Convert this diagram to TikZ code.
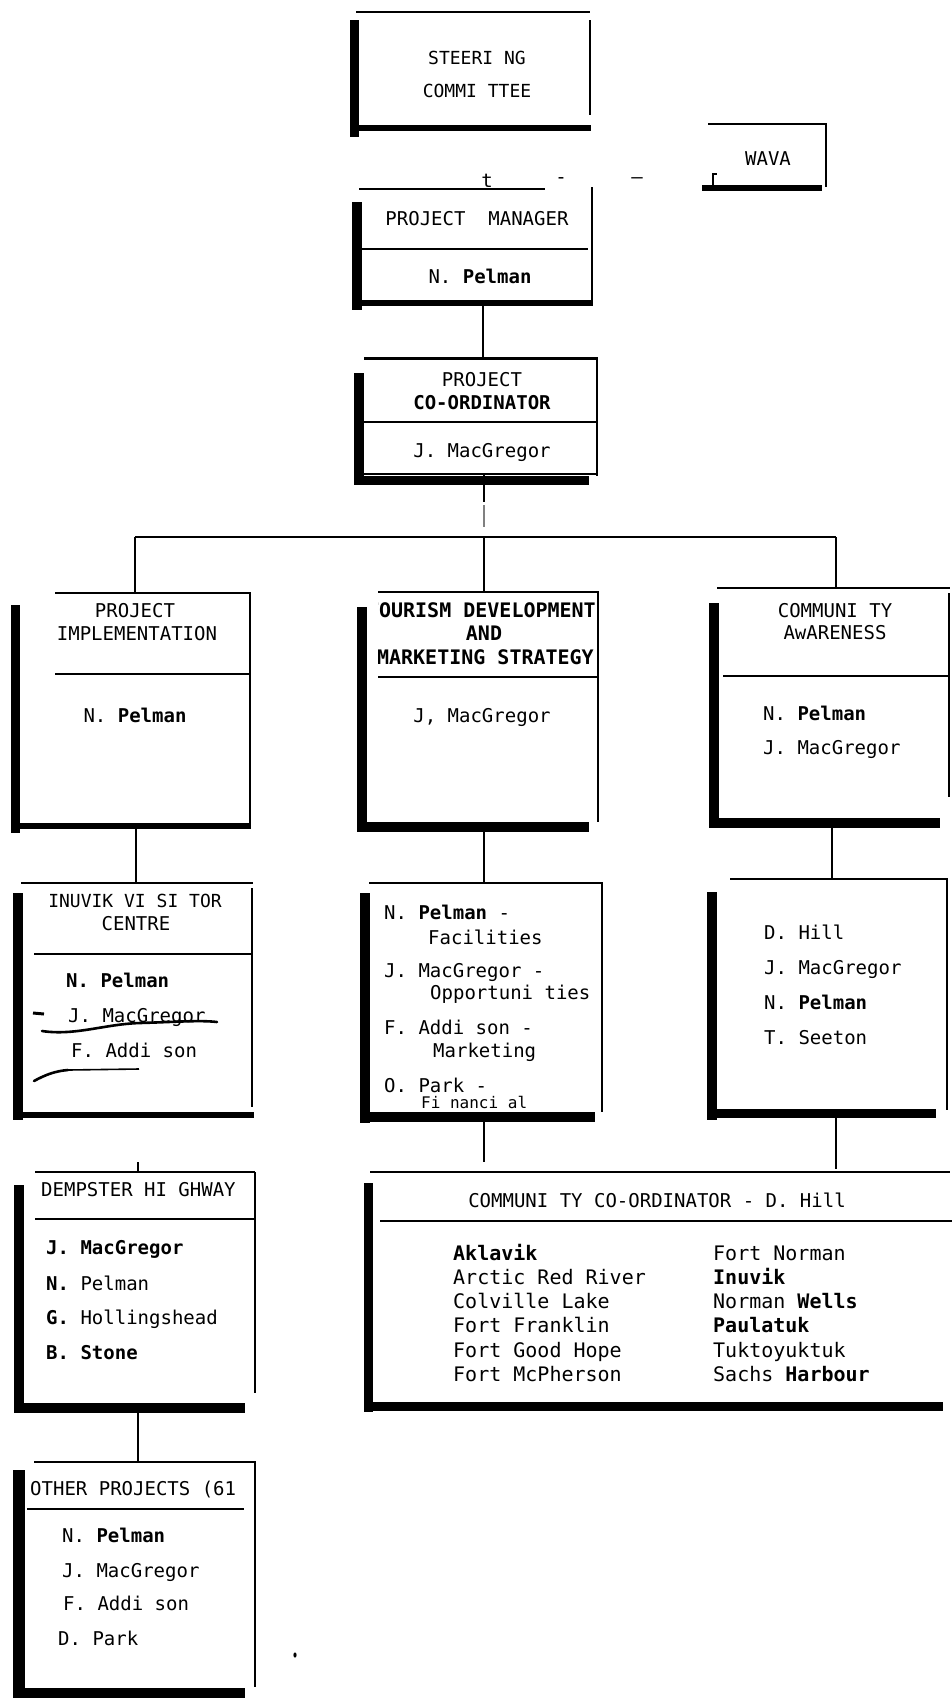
\documentclass[tikz,border=0pt]{standalone}
\usepackage{fontspec}
\setmainfont{DejaVu Sans Mono}
\usetikzlibrary{calc}
\newcommand\areanode[5]{\node[area, minimum width={#4pt-#2pt}, minimum height={#5pt-#3pt}] (#1) at (#2,#3) {};}
\begin{document}
\begin{tikzpicture}[x=1pt,y=-1pt,
  thinln/.style={line width=1.6pt},
  topln/.style={line width=2.4pt},
  conn/.style={line width=1.3pt},
  hand/.style={line width=2.6pt, line cap=round},
  lbl/.style={inner sep=0pt, font=\fontsize{19}{22}\selectfont},
  bl/.style={lbl, anchor=base west},
  bc/.style={lbl, anchor=base},
  big/.style={font=\fontsize{20}{22}\selectfont},
  bigb/.style={font=\fontsize{20}{22}\selectfont\bfseries},
  area/.style={inner sep=0pt, draw=none, anchor=north west}
]
\useasboundingbox[fill=white] (0,0) rectangle (952,1703);

% ---------- Steering committee
\areanode{sc}{359}{12}{590}{125}
\draw[topln] (356,12) -- (590,12);
\draw[thinln] (590,20) -- (590,115);
\fill (350,20) rectangle (359,137);
\fill (359,125) rectangle (591,131);
\node[bc, font=\fontsize{18}{20}\selectfont] (sc1) at (477,64) {STEERI NG};
\node[bc, font=\fontsize{18}{20}\selectfont] (sc2) at (477,97) {COMMI TTEE};

% ---------- WAVA
\areanode{wava}{708}{124}{826}{185}
\draw[topln] (708,124) -- (827,124);
\draw[thinln] (826,123) -- (826,187);
\fill (702,185) rectangle (822,191);
\draw[line width=1.2pt] (713,185) -- (713,174) -- (717,174);
\node[bc] (wava1) at (768,165) {WAVA};

% remnants of the link between them
\node[bc] (tt) at (487,187) {t};
\node[lbl] (d1) at (561,181) {-};
\node[lbl] (d2) at (637,181) {–};

% ---------- Project manager
\areanode{pm}{362}{189}{592}{300}
\draw[topln] (359,189) -- (545,189);
\draw[thinln] (592,187) -- (592,305);
\fill (352,202) rectangle (362,310);
\fill (362,300) rectangle (593,306);
\draw[thinln] (362,249) -- (588,249);
\node[bc] (pm1) at (477,225) {PROJECT~~MANAGER};
\node[bc] (pm2) at (480,283) {N. \textbf{Pelman}};

% ---------- Project co-ordinator
\areanode{pc}{364}{358}{597}{475}
\draw[line width=3pt] (364,358) -- (598,358);
\draw[thinln] (597,358) -- (597,476);
\draw[thinln] (364,474) -- (598,474);
\fill (354,373) rectangle (364,485);
\fill (354,476) rectangle (589,485);
\draw[thinln] (364,422) -- (597,422);
\node[bc] (pc1) at (482,386) {PROJECT};
\node[bc, font=\fontsize{19}{22}\selectfont\bfseries] (pc2) at (482,409) {CO-ORDINATOR};
\node[bc] (pc3) at (482,457) {J. MacGregor};

% ---------- Project implementation
\areanode{pi}{20}{593}{250}{823}
\draw[topln] (55,593) -- (251,593);
\draw[thinln] (250,593) -- (250,823);
\fill (11,605) rectangle (20,833);
\fill (20,823) rectangle (251,829);
\draw[thinln] (55,674) -- (250,674);
\node[bc] (pi1) at (135,617) {PROJECT};
\node[bc] (pi2) at (137,640) {IMPLEMENTATION};
\node[bc] (pi3) at (135,722) {N. \textbf{Pelman}};

% ---------- Tourism development
\areanode{td}{367}{592}{598}{822}
\draw[topln] (378,592) -- (599,592);
\draw[thinln] (598,592) -- (598,822);
\fill (357,607) rectangle (367,832);
\fill (367,822) rectangle (589,832);
\draw[thinln] (378,677) -- (598,677);
\begin{scope}
\clip (378,595) rectangle (600,675);
\node[lbl, anchor=base east, bigb] (td1) at (596,617) {TOURISM DEVELOPMENT};
\node[lbl, anchor=base, bigb] (td2) at (484,640) {AND};
\node[lbl, anchor=base east, bigb] (td3) at (594,664) {MARKETING STRATEGY};
\end{scope}
\node[bc] (td4) at (482,722) {J, MacGregor};

% ---------- Community awareness
\areanode{ca}{719}{588}{949}{818}
\draw[topln] (717,588) -- (950,588);
\draw[thinln] (949,593) -- (949,797);
\fill (709,603) rectangle (719,828);
\fill (719,818) rectangle (940,828);
\draw[thinln] (723,676) -- (949,676);
\node[bc] (ca1) at (835,617) {COMMUNI TY};
\node[bc] (ca2) at (835,639) {AwARENESS};
\node[bl] (ca3) at (763,720) {N. \textbf{Pelman}};
\node[bl] (ca4) at (763,754) {J. MacGregor};

% ---------- Inuvik visitor centre
\areanode{ivc}{23}{883}{252}{1112}
\draw[topln] (21,883) -- (253,883);
\draw[thinln] (252,888) -- (252,1107);
\fill (13,893) rectangle (23,1120);
\fill (23,1112) rectangle (254,1118);
\draw[thinln] (34,954) -- (252,954);
\node[bc, font=\fontsize{18}{20}\selectfont] (ivc1) at (135,907) {INUVIK VI SI TOR};
\node[bc] (ivc2) at (136,930) {CENTRE};
\node[bl, font=\fontsize{19}{22}\selectfont\bfseries] (ivc3) at (66,987) {N. Pelman};
\node[bl] (ivc4) at (68,1022) {J. MacGregor};
\node[bl] (ivc5) at (71,1057) {F. Addi son};
\draw[line width=3pt] (33,1013) -- (44,1014);
\draw[hand] (42,1031) .. controls (75,1036) and (105,1024) .. (140,1023) .. controls (175,1022) and (200,1020) .. (217,1022);
\draw[hand] (34,1081) .. controls (45,1075) and (55,1071) .. (68,1070);
\draw[thinln] (68,1070) -- (139,1069);

% ---------- Development list
\areanode{dl}{370}{883}{602}{1112}
\draw[topln] (369,883) -- (603,883);
\draw[thinln] (602,883) -- (602,1112);
\fill (360,893) rectangle (370,1123);
\fill (370,1112) rectangle (595,1122);
\node[bl] (dl1) at (384,919) {N. \textbf{Pelman} -};
\node[bl] (dl2) at (428,944) {Facilities};
\node[bl] (dl3) at (384,977) {J. MacGregor -};
\node[bl] (dl4) at (430,999) {Opportuni ties};
\node[bl] (dl5) at (384,1034) {F. Addi son -};
\node[bl] (dl6) at (433,1057) {Marketing};
\node[bl] (dl7) at (384,1092) {O. Park -};
\node[bl, font=\fontsize{16}{18}\selectfont] (dl8) at (421,1108) {Fi nanci al};

% ---------- Community list
\areanode{cl}{717}{879}{947}{1109}
\draw[topln] (730,879) -- (948,879);
\draw[thinln] (947,879) -- (947,1110);
\fill (707,892) rectangle (717,1120);
\fill (717,1109) rectangle (936,1118);
\node[bl] (cl1) at (764,939) {D. Hill};
\node[bl] (cl2) at (764,974) {J. MacGregor};
\node[bl] (cl3) at (764,1009) {N. \textbf{Pelman}};
\node[bl] (cl4) at (764,1044) {T. Seeton};

% ---------- Dempster highway
\areanode{dh}{24}{1172}{255}{1403}
\draw[topln] (35,1172) -- (255,1172);
\draw[thinln] (255,1172) -- (255,1393);
\fill (14,1185) rectangle (24,1413);
\fill (24,1403) rectangle (245,1413);
\draw[topln] (35,1219) -- (255,1219);
\node[bl] (dh1) at (41,1196) {DEMPSTER HI GHWAY};
\node[bl, font=\fontsize{19}{22}\selectfont\bfseries] (dh2) at (46,1254) {J. MacGregor};
\node[bl] (dh3) at (46,1290) {\textbf{N.} Pelman};
\node[bl] (dh4) at (46,1324) {\textbf{G.} Hollingshead};
\node[bl, font=\fontsize{19}{22}\selectfont\bfseries] (dh5) at (46,1359) {B. Stone};

% ---------- Community co-ordinator
\areanode{cc}{373}{1172}{953}{1402}
\draw[topln] (370,1172) -- (950,1172);
\draw[thinln] (953,1172) -- (953,1397);
\fill (364,1183) rectangle (373,1412);
\fill (373,1402) rectangle (943,1411);
\draw[thinln] (380,1221) -- (952,1221);
\node[bc] (cc0) at (657,1207) {COMMUNI TY CO-ORDINATOR - D. Hill};
\node[bl, bigb] (cc1) at (453,1260) {Aklavik};
\node[bl, big] (cc2) at (453,1284) {Arctic Red River};
\node[bl, big] (cc3) at (453,1308) {Colville Lake};
\node[bl, big] (cc4) at (453,1332) {Fort Franklin};
\node[bl, big] (cc5) at (453,1357) {Fort Good Hope};
\node[bl, big] (cc6) at (453,1381) {Fort McPherson};
\node[bl, big] (cc7) at (713,1260) {Fort Norman};
\node[bl, bigb] (cc8) at (713,1284) {Inuvik};
\node[bl, big] (cc9) at (713,1308) {Norman \textbf{Wells}};
\node[bl, bigb] (cc10) at (713,1332) {Paulatuk};
\node[bl, big] (cc11) at (713,1357) {Tuktoyuktuk};
\node[bl, big] (cc12) at (713,1381) {Sachs \textbf{Harbour}};

% ---------- Other projects
\areanode{op}{25}{1462}{255}{1688}
\draw[topln] (34,1462) -- (256,1462);
\draw[thinln] (255,1462) -- (255,1687);
\fill (13,1470) rectangle (25,1698);
\fill (25,1688) rectangle (245,1698);
\draw[thinln] (27,1509) -- (244,1509);
\node[bl] (op1) at (30,1495) {OTHER PROJECTS (61};
\node[bl] (op2) at (62,1542) {N. \textbf{Pelman}};
\node[bl] (op3) at (62,1577) {J. MacGregor};
\node[bl] (op4) at (63,1610) {F. Addi son};
\node[bl] (op5) at (58,1645) {D. Park};
\fill (295,1655) ellipse (1.6 and 2.6);

% ---------- connectors
\coordinate (xa) at (483,0);
\draw[conn] (pm.south -| xa) -- (pc.north -| xa);
\coordinate (jm) at (484,537);
\coordinate (jl) at (135,537);
\coordinate (jr) at (836,537);
\draw[conn] (pc.south -| jm) -- ($(jm)+(0,-35)$);
\draw[conn, gray] ($(jm)+(0,-32)$) -- ($(jm)+(0,-10)$);
\draw[conn] (jl) -- (jr);
\draw[conn] (jl) -- (pi.north -| jl);
\draw[conn] (jm) -- (td.north -| jm);
\draw[conn] (jr) -- (ca.north -| jr);
\coordinate (xl) at (136,0);
\coordinate (xm) at (484,0);
\coordinate (xr) at (832,0);
\draw[conn] (pi.south -| xl) -- (ivc.north -| xl);
\draw[conn] (td.south -| xm) -- (dl.north -| xm);
\draw[conn] (ca.south -| xr) -- (cl.north -| xr);
\coordinate (tk) at (138,1162);
\draw[conn] (tk) -- (dh.north -| tk);
\draw[conn] (dl.south -| xm) -- ($(cc.north -| xm)+(0,-10)$);
\coordinate (xr2) at (836,0);
\draw[conn] (cl.south -| xr2) -- ($(cc.north -| xr2)+(0,-3)$);
\coordinate (xo) at (138,0);
\draw[conn] (dh.south -| xo) -- (op.north -| xo);
\end{tikzpicture}
\end{document}
